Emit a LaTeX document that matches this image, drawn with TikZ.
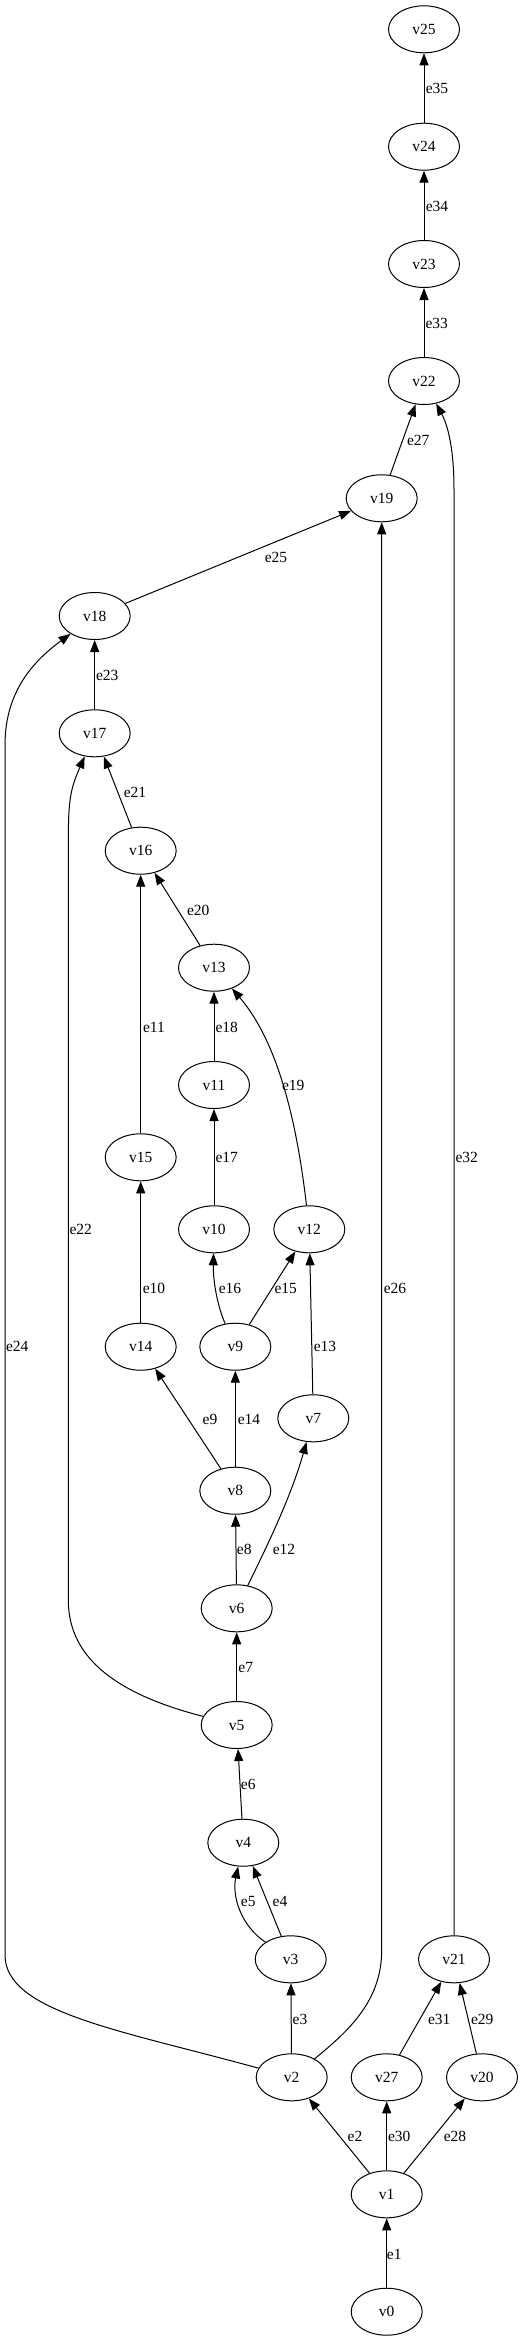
\documentclass[tikz,border=0pt]{standalone}
\usepackage{fontspec}
\setmainfont{Liberation Serif}
\usetikzlibrary{positioning,arrows.meta,shapes.geometric}
\tikzset{
  vnode/.style={ellipse, draw, line width=1pt, minimum width=71pt, minimum height=47pt, inner sep=0pt, font=\fontsize{15.5}{18}\selectfont},
  edge/.style={-{Triangle[length=12pt,width=9pt]}, line width=1pt},
  elabel/.style={inner sep=0pt, font=\fontsize{15.5}{18}\selectfont}
}

\begin{document}
\begin{tikzpicture}[x=1pt,y=-1pt]
  \useasboundingbox (0,0) rectangle (529,2341);
  % vertices
  \node[vnode] (v25) at (424,29.3) {v25};
  \node[vnode] (v24) at (424,146.7) {v24};
  \node[vnode] (v23) at (424,264) {v23};
  \node[vnode] (v22) at (424,381) {v22};
  \node[vnode] (v19) at (381.7,498.3) {v19};
  \node[vnode] (v18) at (94.7,616) {v18};
  \node[vnode] (v17) at (94.7,733.3) {v17};
  \node[vnode] (v16) at (140.7,850.7) {v16};
  \node[vnode] (v13) at (214,967.7) {v13};
  \node[vnode] (v11) at (214,1085) {v11};
  \node[vnode] (v15) at (140.7,1157.3) {v15};
  \node[vnode] (v10) at (214,1229.3) {v10};
  \node[vnode] (v12) at (309.3,1229.3) {v12};
  \node[vnode] (v14) at (140.7,1346.7) {v14};
  \node[vnode] (v9) at (235.3,1346.7) {v9};
  \node[vnode] (v7) at (313.3,1418.3) {v7};
  \node[vnode] (v8) at (235.3,1490.7) {v8};
  \node[vnode] (v6) at (236.7,1608.3) {v6};
  \node[vnode] (v5) at (236.7,1725) {v5};
  \node[vnode] (v4) at (243.3,1842.7) {v4};
  \node[vnode] (v3) at (290.7,1959.3) {v3};
  \node[vnode] (v21) at (454,1959.3) {v21};
  \node[vnode] (v2) at (291.7,2077.3) {v2};
  \node[vnode] (v27) at (386.7,2077.3) {v27};
  \node[vnode] (v20) at (482,2077.3) {v20};
  \node[vnode] (v1) at (386.7,2194.3) {v1};
  \node[vnode] (v0) at (386.7,2311.7) {v0};

  % edges
  \draw[edge] (v0) -- (v1);
  \draw[edge] (v1) -- (v2);
  \draw[edge] (v1) -- (v27);
  \draw[edge] (v1) -- (v20);
  \draw[edge] (v2) -- (v3);
  \draw[edge] (v27) -- (v21);
  \draw[edge] (v20) -- (v21);
  \draw[edge] (v3) -- (v4);
  \draw[edge] (v3) .. controls (240,1925) and (232,1895) .. (v4);
  \draw[edge] (v4) -- (v5);
  \draw[edge] (v5) -- (v6);
  \draw[edge] (v6) -- (v8);
  \draw[edge] (v6) .. controls (265,1550) and (290,1500) .. (v7);
  \draw[edge] (v8) -- (v14);
  \draw[edge] (v8) -- (v9);
  \draw[edge] (v7) -- (v12);
  \draw[edge] (v9) .. controls (217,1305) and (213,1280) .. (v10);
  \draw[edge] (v9) -- (v12);
  \draw[edge] (v14) -- (v15);
  \draw[edge] (v10) -- (v11);
  \draw[edge] (v12) .. controls (300,1150) and (285,1050) .. (v13);
  \draw[edge] (v11) -- (v13);
  \draw[edge] (v15) -- (v16);
  \draw[edge] (v13) -- (v16);
  \draw[edge] (v16) -- (v17);
  \draw[edge] (v5) .. controls (120,1695) and (68.3,1660) .. (68.3,1600)
    -- (68.3,845) .. controls (68.3,800) and (70,790) .. (v17);
  \draw[edge] (v17) -- (v18);
  \draw[edge] (v2) .. controls (120,2030) and (5,2012) .. (5,1955)
    -- (5,745) .. controls (5,690) and (35,660) .. (v18);
  \draw[edge] (v18) -- (v19);
  \draw[edge] (v2) .. controls (350,2030) and (381.7,2000) .. (381.7,1950) -- (v19);
  \draw[edge] (v19) -- (v22);
  \draw[edge] (v21) -- (454,490) .. controls (454,440) and (445,420) .. (v22);
  \draw[edge] (v22) -- (v23);
  \draw[edge] (v23) -- (v24);
  \draw[edge] (v24) -- (v25);

  % edge labels
  \node[elabel] (l1) at (394.3,2254) {e1};
  \node[elabel] (l2) at (355,2136) {e2};
  \node[elabel] (l30) at (399.3,2136) {e30};
  \node[elabel] (l28) at (455,2136) {e28};
  \node[elabel] (l3) at (300,2019) {e3};
  \node[elabel] (l31) at (439.3,2019) {e31};
  \node[elabel] (l29) at (482.3,2019) {e29};
  \node[elabel] (l4) at (280,1901.7) {e4};
  \node[elabel] (l5) at (248.3,1901.7) {e5};
  \node[elabel] (l6) at (248.3,1784.3) {e6};
  \node[elabel] (l7) at (245.7,1667.7) {e7};
  \node[elabel] (l8) at (244.3,1549.3) {e8};
  \node[elabel] (l12) at (284,1549.3) {e12};
  \node[elabel] (l9) at (210,1419) {e9};
  \node[elabel] (l14) at (249,1419) {e14};
  \node[elabel] (l13) at (325,1346.7) {e13};
  \node[elabel] (l16) at (230,1288.3) {e16};
  \node[elabel] (l15) at (285.7,1288.3) {e15};
  \node[elabel] (l10) at (154,1288.3) {e10};
  \node[elabel] (l26) at (395,1288.3) {e26};
  \node[elabel] (l17) at (226.7,1157.3) {e17};
  \node[elabel] (l32) at (466.7,1157.3) {e32};
  \node[elabel] (l19) at (293.3,1085) {e19};
  \node[elabel] (l18) at (226.7,1027.7) {e18};
  \node[elabel] (l11) at (154,1027.7) {e11};
  \node[elabel] (l20) at (198.3,910) {e20};
  \node[elabel] (l21) at (135,792.7) {e21};
  \node[elabel] (l22) at (80.7,1229.3) {e22};
  \node[elabel] (l23) at (107.3,675) {e23};
  \node[elabel] (l24) at (17.3,1346.7) {e24};
  \node[elabel] (l25) at (276,557.7) {e25};
  \node[elabel] (l27) at (418.3,440) {e27};
  \node[elabel] (l33) at (436.7,323.3) {e33};
  \node[elabel] (l34) at (437,206.7) {e34};
  \node[elabel] (l35) at (437,88.3) {e35};
\end{tikzpicture}
\end{document}
